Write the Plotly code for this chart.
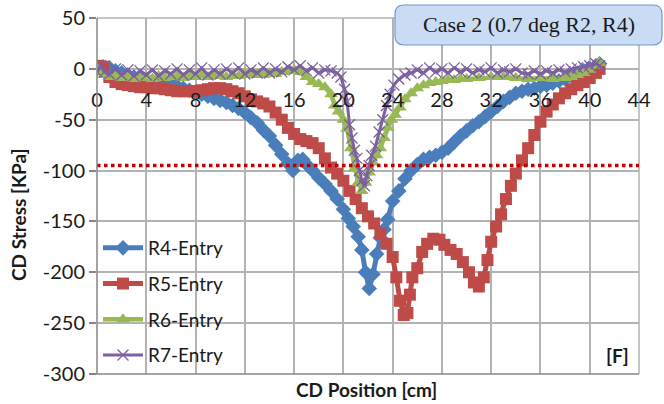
import plotly.graph_objects as go

# ---------------- data ----------------
r4_x = [0, 0.5, 1, 1.5, 2, 2.5, 3, 3.5, 4, 4.5, 5, 5.5, 6, 6.5, 7, 7.5, 8, 8.5, 9, 9.5,
        10, 10.5, 11, 11.5, 12, 12.5, 13, 13.5, 14, 14.5, 15, 15.5, 15.9, 16.3, 16.7, 17.1,
        17.5, 18, 18.5, 19, 19.5, 20, 20.4, 20.8, 21.2, 21.5, 21.8, 22.1, 22.4, 22.7, 23,
        23.3, 23.6, 24, 24.5, 25, 25.5, 26, 26.5, 27, 27.5, 28, 28.5, 29, 29.5, 30, 30.5,
        31, 31.5, 32, 32.5, 33, 33.5, 34, 34.5, 35, 35.5, 36, 36.5, 37, 37.5, 38, 38.5, 39,
        39.5, 40, 40.5, 40.8]
r4_y = [0, 2, 1, -2, -4, -6, -8, -10, -11, -12, -13, -14, -15, -17, -19, -21, -23, -25, -27, -29,
        -31, -33, -36, -39, -43, -48, -53, -60, -66, -75, -84, -93, -100, -90, -89, -95,
        -100, -107, -113, -120, -128, -138, -147, -155, -165, -178, -200, -216, -202, -182, -166,
        -158, -148, -130, -120, -108, -100, -94, -89, -87, -85, -82, -78, -72, -66, -61, -56,
        -52, -47, -42, -37, -32, -28, -24, -22, -20, -19, -17, -16, -14, -12, -10, -7, -4,
        -2, 0, 3, 5]

r5_x = [0, 0.5, 1, 1.5, 2, 2.5, 3, 3.5, 4, 4.5, 5, 5.5, 6, 6.5, 7, 7.5, 8, 8.5, 9, 9.5,
        10, 10.5, 11, 11.5, 12, 12.5, 13, 13.5, 14, 14.5, 15, 15.5, 16, 16.5, 17, 17.5, 18,
        18.5, 19, 19.5, 20, 20.5, 21, 21.5, 22, 22.5, 23, 23.5, 24, 24.3, 24.6, 24.9, 25.2,
        25.4, 25.6, 26, 26.4, 26.8, 27.3, 27.8, 28.2, 28.7, 29.2, 29.7, 30.2, 30.6, 31, 31.4,
        31.7, 32, 32.4, 32.8, 33.2, 33.6, 34, 34.5, 35, 35.5, 36, 36.5, 37, 37.5, 38, 38.5,
        39, 39.5, 40, 40.5, 40.8]
r5_y = [3, 2, -8, -13, -15, -16, -17, -18, -18, -19, -19, -20, -21, -22, -22, -22, -22, -21, -20, -19,
        -19, -20, -22, -24, -27, -30, -32, -34, -37, -43, -50, -58, -64, -69, -71, -73, -78,
        -88, -97, -103, -110, -120, -128, -137, -145, -152, -162, -172, -185, -205, -228, -242, -240,
        -222, -205, -196, -180, -172, -167, -168, -173, -178, -182, -190, -200, -210, -214, -205,
        -188, -170, -155, -143, -128, -115, -103, -90, -78, -65, -52, -42, -35, -29, -24, -20,
        -16, -13, -9, -4, 0]

r6_x = [0, 0.3, 0.6, 1, 1.5, 2, 2.5, 3, 3.5, 4, 4.5, 5, 5.5, 6, 6.5, 7, 7.5, 8, 8.5, 9, 9.5,
        10, 10.5, 11, 11.5, 12, 12.5, 13, 13.5, 14, 14.5, 15, 15.5, 16, 16.5, 17, 17.5, 18,
        18.5, 19, 19.3, 19.6, 20, 20.3, 20.6, 20.9, 21.2, 21.5, 21.8, 22.1, 22.4, 22.7, 23,
        23.3, 23.6, 23.9, 24.2, 24.6, 25, 25.5, 26, 26.5, 27, 27.5, 28, 28.5, 29, 29.5, 30,
        31, 32, 33, 34, 35, 36, 37, 38, 38.5, 39, 39.5, 40, 40.5, 40.8]
r6_y = [2, -3, -6, -8, -7, -9, -8, -10, -9, -8, -10, -7, -9, -8, -7, -9, -7, -8, -6, -8, -7,
        -6, -8, -6, -7, -5, -6, -5, -6, -4, -5, -3, -2, -1, -3, -8, -13, -15,
        -18, -25, -36, -42, -50, -59, -78, -98, -112, -120, -112, -102, -92, -85, -78,
        -68, -58, -50, -45, -38, -30, -24, -19, -16, -14, -13, -12, -11, -11, -10, -10,
        -9, -8, -8, -9, -10, -9, -10, -9, -8, -6, -4, -1, 3, 6]

r7_x = [0, 0.3, 0.6, 1, 1.5, 2, 2.5, 3, 3.5, 4, 4.5, 5, 5.5, 6, 6.5, 7, 7.5, 8, 8.5, 9, 9.5,
        10, 10.5, 11, 11.5, 12, 12.5, 13, 13.5, 14, 14.5, 15, 15.5, 16, 16.5, 17, 17.5, 18,
        18.5, 19, 19.5, 19.8, 20.1, 20.3, 20.5, 20.7, 20.9, 21.1, 21.3, 21.5, 21.7, 21.9,
        22.1, 22.3, 22.6, 22.9, 23.2, 23.5, 23.8, 24.1, 24.5, 25, 25.5, 26, 26.5, 27, 27.5,
        28, 28.5, 29, 29.5, 30, 30.5, 31, 31.5, 32, 32.5, 33, 33.5, 34, 34.5, 35, 35.5, 36,
        36.5, 37, 37.5, 38, 38.5, 39, 39.5, 40, 40.5, 40.8]
r7_y = [-3, 3, -3, -5, 0, -6, -1, -7, -2, -6, -1, -7, -2, -5, 0, -6, -1, -5, 1, -6, -1,
        -5, 0, -4, 1, -5, -1, -4, 1, -4, 0, -3, 2, -1, 3, -2, 1, -4,
        -1, -2, -4, -8, -20, -32, -55, -68, -80, -88, -100, -110, -115, -105,
        -95, -85, -76, -62, -50, -36, -25, -16, -10, -6, -4, -1, -4, 1, -3,
        0, -4, 1, -3, 0, -4, -1, -3, 1, -4, -1, -3, 0, -4, -5, -2, -5,
        -2, -4, -1, -3, 0, 1, 2, 3, 5, 3]

limit_x = [0, 44]
limit_y = [-95, -95]

x_ticks = [0, 4, 8, 12, 16, 20, 24, 28, 32, 36, 40, 44]
y_ticks = [50, 0, -50, -100, -150, -200, -250, -300]

# ---------------- figure ----------------
FONT = "Lato"
fig = go.Figure()

series = [
    ("R4-Entry", r4_x, r4_y, "#4a7ebb", "diamond", 12, 5),
    ("R5-Entry", r5_x, r5_y, "#be4b48", "square", 12, 5),
    ("R6-Entry", r6_x, r6_y, "#98b954", "triangle-up", 12, 4.5),
    ("R7-Entry", r7_x, r7_y, "#7d60a0", "x-thin", 11, 3),
]
for i, (name, xs, ys, col, sym, msz, lw) in enumerate(series):
    marker = dict(symbol=sym, size=msz, color=col)
    if sym == "x-thin":
        marker["line"] = dict(color=col, width=1.3)
    fig.add_trace(go.Scatter(
        x=xs, y=ys, name=name, mode="lines+markers",
        line=dict(color=col, width=lw), marker=marker,
        legendgroup=f"g{i}",
    ))

fig.add_trace(go.Scatter(
    x=limit_x, y=limit_y, mode="lines", showlegend=False,
    line=dict(color="#c00000", width=3.5, dash="dot"),
))

shapes = [
    dict(type="line", xref="paper", yref="paper", x0=0, x1=0, y0=0, y1=1,
         line=dict(color="#868686", width=1.5)),
    dict(type="line", xref="paper", yref="paper", x0=-0.013, x1=1, y0=0, y1=0,
         line=dict(color="#868686", width=1.5)),
    dict(type="line", xref="paper", yref="paper", x0=1, x1=1, y0=0, y1=1,
         line=dict(color="#b3b3b3", width=1.5), layer="below"),
    dict(type="line", xref="paper", yref="paper", x0=0, x1=1, y0=1, y1=1,
         line=dict(color="#b3b3b3", width=1.5), layer="below"),
]

L, R, T, B = 395, 662, 5, 45
W, H = 542.0, 356.0
def px(xp):
    return (xp - 97) / W
def py(yp):
    return (374 - yp) / H
rx, ry = 9 / W, 9 / H
x0, x1, y0, y1 = px(L), px(R), py(B), py(T)
path = (f"M {x0+rx},{y1} L {x1-rx},{y1} Q {x1},{y1} {x1},{y1-ry} "
        f"L {x1},{y0+ry} Q {x1},{y0} {x1-rx},{y0} L {x0+rx},{y0} "
        f"Q {x0},{y0} {x0},{y0+ry} L {x0},{y1-ry} Q {x0},{y1} {x0+rx},{y1} Z")
shapes.append(dict(type="path", xref="paper", yref="paper", path=path,
                   fillcolor="#c9dcf4", line=dict(color="#6f9bd2", width=1.2)))

annotations = [
    dict(text="Case 2 (0.7 deg R2, R4)", xref="paper", yref="paper",
         x=px(529), y=py(25), showarrow=False, xanchor="center", yanchor="middle",
         font=dict(family="Liberation Serif", size=22, color="#1a1a1a")),
    dict(text="<b>CD Stress [KPa]</b>", xref="paper", yref="paper",
         x=px(18), y=py(215), showarrow=False, textangle=-90,
         xanchor="center", yanchor="middle",
         font=dict(family=FONT, size=19, color="#1a1a1a")),
    dict(text="<b>CD Position [cm]</b>", xref="paper", yref="paper",
         x=px(366), y=py(389), showarrow=False, xanchor="center", yanchor="middle",
         font=dict(family=FONT, size=19, color="#1a1a1a")),
    dict(text="<b>[F]</b>", xref="paper", yref="paper",
         x=px(617), y=py(355), showarrow=False, xanchor="center", yanchor="middle",
         font=dict(family=FONT, size=19, color="#1a1a1a")),
]

fig.update_layout(
    width=664, height=404,
    margin=dict(l=97, r=25, t=18, b=30, autoexpand=False),
    paper_bgcolor="white", plot_bgcolor="white",
    font=dict(family=FONT, size=20, color="#1a1a1a"),
    showlegend=True,
    legend=dict(x=px(98), y=py(229), xanchor="left", yanchor="top",
                bgcolor="rgba(0,0,0,0)", tracegroupgap=8, itemwidth=40,
                font=dict(family=FONT, size=19, color="#1a1a1a")),
    shapes=shapes,
    annotations=annotations,
    xaxis=dict(range=[0, 44], tickvals=x_ticks, ticktext=[str(v) for v in x_ticks],
               showgrid=True, gridcolor="#b3b3b3", gridwidth=1.5, zeroline=False,
               anchor="free", position=300 / 350, showline=False, automargin=False,
               ticks="outside", ticklen=13, tickcolor="rgba(0,0,0,0)",
               tickfont=dict(family=FONT, size=20, color="#1a1a1a")),
    yaxis=dict(range=[-300, 50], tickvals=y_ticks, ticktext=[str(v) for v in y_ticks],
               showgrid=True, gridcolor="#b3b3b3", gridwidth=1.5, zeroline=False,
               ticks="outside", ticklen=7, tickcolor="#868686", tickwidth=1.5,
               showline=False, automargin=False,
               tickfont=dict(family=FONT, size=20, color="#1a1a1a")),
)

fig.write_html("out.html")
